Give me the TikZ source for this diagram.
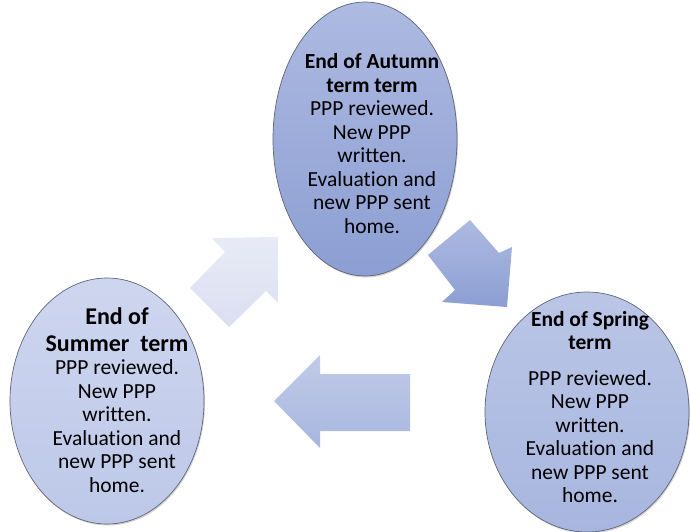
\documentclass[tikz,border=0pt]{standalone}
\usepackage{fontspec}
\setmainfont{Carlito}[Ligatures=NoCommon]
\usetikzlibrary{shapes,shadows}
\definecolor{autumnTop}{HTML}{ADBAE1}
\definecolor{autumnBot}{HTML}{8C9ED3}
\definecolor{springTop}{HTML}{BAC5E6}
\definecolor{springBot}{HTML}{A8B6DF}
\definecolor{summerTop}{HTML}{CED6EF}
\definecolor{summerBot}{HTML}{BDC8E8}
\definecolor{paleTop}{HTML}{E8EBF6}
\definecolor{paleBot}{HTML}{DADFF1}
\definecolor{edge}{HTML}{5F6675}
\newcommand{\bigtitle}[1]{{\fontsize{24}{27}\selectfont\bfseries #1}}
\tikzset{
  term/.style={ellipse,draw=edge,line width=0.7pt,inner sep=0pt,
    drop shadow={shadow xshift=1pt,shadow yshift=-1.5pt,opacity=0.35}},
  termtext/.style={align=center,inner sep=0pt,font=\fontsize{21.5}{23.5}\selectfont}
}
\begin{document}
\begin{tikzpicture}[x=1pt,y=1pt]
\useasboundingbox (0,0) rectangle (690,531);
% block arrows
\shade[top color=paleTop,bottom color=paleBot] (278,294) -- (278,228) -- (266,240) -- (229,204) -- (190,243) -- (225,279) -- (212,293) -- cycle;
\shade[top color=autumnTop,bottom color=autumnBot] (470,311) -- (499,278) -- (512,284) -- (507,224) -- (442,229) -- (455,241) -- (428,276) -- cycle;
\shade[top color=springTop!90!white,bottom color=springBot] (274,130) -- (320,176) -- (320,157) -- (410,157) -- (410,100) -- (320,100) -- (320,83) -- cycle;
% terms
\node[term,top color=autumnTop,bottom color=autumnBot,minimum width=184pt,minimum height=274pt] (autumn) at (365,392) {};
\node[term,top color=springTop,bottom color=springBot,minimum width=204pt,minimum height=240pt] (spring) at (587,119) {};
\node[term,top color=summerTop,bottom color=summerBot,minimum width=194pt,minimum height=246pt] (summer) at (107,130) {};
\node[termtext] (autumntext) at (372,387.5) {\textbf{End of Autumn}\\\textbf{term term}\\PPP reviewed.\\New PPP\\written.\\Evaluation and\\new PPP sent\\home.};
\node[termtext] (springtext) at (590,124) {\textbf{End of Spring}\\\textbf{term}\\[12pt]PPP reviewed.\\New PPP\\written.\\Evaluation and\\new PPP sent\\home.};
\node[termtext] (summertext) at (117,131) {\bigtitle{End of}\\[3pt]\bigtitle{Summer~ term}\\PPP reviewed.\\New PPP\\written.\\Evaluation and\\new PPP sent\\home.};
\end{tikzpicture}
\end{document}
